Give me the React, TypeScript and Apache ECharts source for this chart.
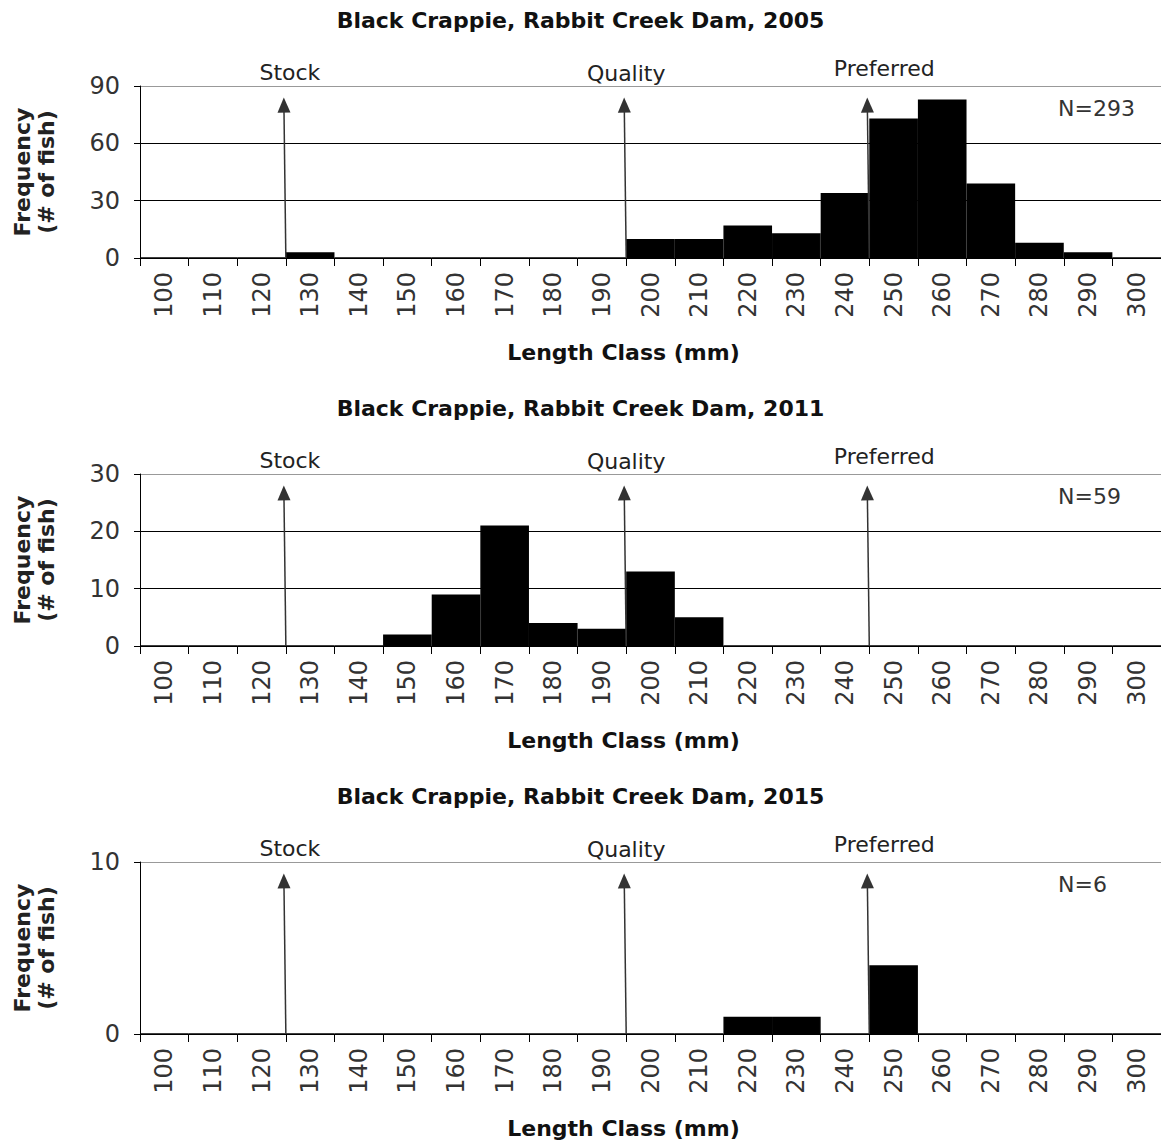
import React, { useEffect, useRef } from "react";
import * as echarts from "echarts";

const categories = ["100","110","120","130","140","150","160","170","180","190","200","210","220","230","240","250","260","270","280","290","300"];
const years = ["2005", "2011", "2015"];
const freq2005 = [0,0,0,3,0,0,0,0,0,0,10,10,17,13,34,73,83,39,8,3,0];
const freq2011 = [0,0,0,0,0,2,9,21,4,3,13,5,0,0,0,0,0,0,0,0,0];
const freq2015 = [0,0,0,0,0,0,0,0,0,0,0,0,1,1,0,4,0,0,0,0,0];
const sampleSizes = [293, 59, 6];
const yMaxes = [90, 30, 10];
const yIntervals = [30, 10, 10];
const arrowTops = [80, 26.7, 8.9];
const thresholdNames = ["Stock", "Quality", "Preferred"];
const thresholdValues = [130, 200, 250];

const FONT = "DejaVu Sans";

export default function App() {
  const ref = useRef<HTMLDivElement>(null);
  useEffect(() => {
    if (!ref.current) return;
    const chart = echarts.init(ref.current, null, { renderer: "svg" });
    const gridTops = [86, 474, 862];
    const plotH = 172;
    const labelOffsets = [[4, -14], [0, -13], [15, -18]];
    const allFreq = [freq2005, freq2011, freq2015];

    const grids = gridTops.map((t) => ({ left: 140, right: 0, top: t, height: plotH, containLabel: false }));
    const catAxes = gridTops.map((_, i) => ({
      type: "category",
      gridIndex: i,
      data: categories,
      boundaryGap: true,
      name: "Length Class (mm)",
      nameLocation: "middle",
      nameGap: 83,
      nameTextStyle: { fontFamily: FONT, fontWeight: "bold", fontSize: 22, color: "#111", padding: [0, 54, 0, 0] },
      axisLine: { show: true, lineStyle: { color: "#000", width: 1 } },
      axisTick: { show: true, length: 8, interval: 0, alignWithLabel: false, lineStyle: { color: "#000" } },
      axisLabel: { show: true, rotate: 90, interval: 0, fontFamily: FONT, fontSize: 24, color: "#333", margin: 14 },
      splitLine: { show: false },
    }));
    const valAxes = gridTops.map((_, i) => ({
      type: "value",
      gridIndex: i,
      min: 100,
      max: 310,
      show: false,
    }));
    const yAxes = gridTops.map((_, i) => ({
      type: "value",
      gridIndex: i,
      min: 0,
      max: yMaxes[i],
      interval: yIntervals[i],
      name: "Frequency\n(# of fish)",
      nameLocation: "middle",
      nameRotate: 90,
      nameGap: 82,
      nameTextStyle: { fontFamily: FONT, fontWeight: "bold", fontSize: 22, lineHeight: 24, color: "#222" },
      axisLine: { show: true, lineStyle: { color: "#000", width: 1 } },
      axisTick: { show: true, length: 6, lineStyle: { color: "#000" } },
      axisLabel: { fontFamily: FONT, fontSize: 24, color: "#333", margin: 20 },
      splitLine: {
        show: true,
        lineStyle: { color: yMaxes[i] / yIntervals[i] === 1 ? ["#000", "#999"] : ["#000", "#000", "#000", "#999"], width: 1 },
      },
    }));

    const series: any[] = [];
    allFreq.forEach((f, i) => {
      series.push({
        type: "bar",
        xAxisIndex: i,
        yAxisIndex: i,
        data: f,
        barCategoryGap: "0%",
        itemStyle: { color: "#000", borderColor: "#000", borderWidth: 1.5 },
        silent: true,
      });
      series.push({
        type: "scatter",
        xAxisIndex: 3 + i,
        yAxisIndex: i,
        data: [],
        silent: true,
        markLine: {
          silent: true,
          animation: false,
          symbol: ["none", "triangle"],
          symbolSize: [13, 15],
          lineStyle: { color: "#333", width: 1.5, type: "solid" },
          label: { show: false },
          data: thresholdValues.map((t) => [
            { coord: [t, 0] },
            { coord: [t - 0.4, arrowTops[i]] },
          ]),
        },
        markPoint: {
          silent: true,
          animation: false,
          symbol: "circle",
          symbolSize: 0,
          itemStyle: { color: "transparent" },
          label: { show: true, position: "inside", formatter: "{b}", fontFamily: FONT, fontSize: 22, color: "#222" },
          data: thresholdValues.map((t, k) => ({
            name: thresholdNames[k],
            coord: [t, yMaxes[i]],
            label: { offset: labelOffsets[k] },
          })),
        },
      });
    });

    const titles: any[] = [];
    gridTops.forEach((t, i) => {
      titles.push({
        text: `Black Crappie, Rabbit Creek Dam, ${years[i]}`,
        left: "center",
        top: t - 82,
        textStyle: { fontFamily: FONT, fontWeight: "bold", fontSize: 22, color: "#111" },
      });
      titles.push({
        text: `N=${sampleSizes[i]}`,
        left: 1053,
        top: t + 6,
        textStyle: { fontFamily: FONT, fontWeight: "normal", fontSize: 22, color: "#333" },
      });
    });

    chart.setOption({
      animation: false,
      backgroundColor: "#fff",
      title: titles,
      grid: grids,
      xAxis: [...catAxes, ...valAxes],
      yAxis: yAxes,
      series,
    });
    return () => chart.dispose();
  }, []);
  return (
    <div
      ref={ref}
      style={{ position: "absolute", left: 0, top: 0, width: 1161, height: 1144, background: "#fff" }}
    />
  );
}
